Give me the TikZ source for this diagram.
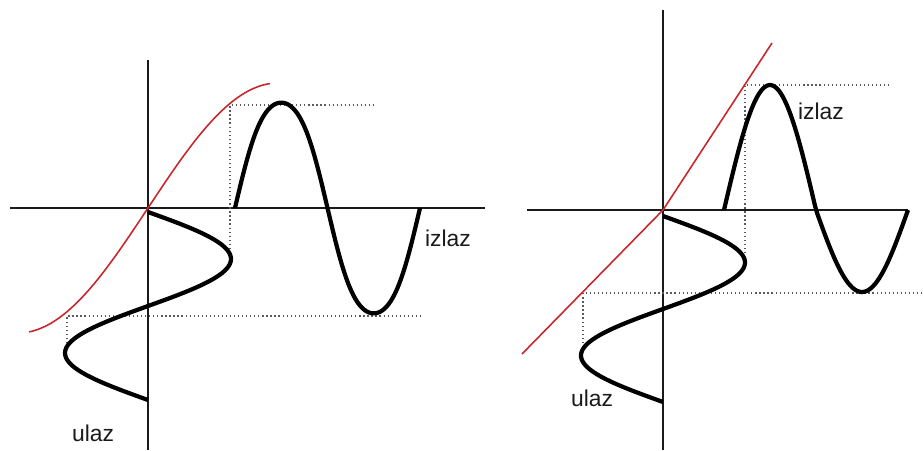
\documentclass[tikz,border=0pt]{standalone}
\usepackage{fontspec}
\setmainfont{Liberation Sans}
\usepackage{xcolor}
\definecolor{txt}{HTML}{1A1A1A}
\definecolor{redline}{HTML}{C8262B}
\definecolor{dotgray}{HTML}{5A5A5A}

\begin{document}
\begin{tikzpicture}[
  x=0.02cm, y=-0.02cm,
  axis/.style={draw=txt, line width=0.9pt},
  wave/.style={draw=black, line width=2.4pt, line join=round},
  transfer/.style={draw=redline, line width=0.9pt},
  guide/.style={draw=dotgray, line width=0.6pt, dash pattern=on 0.7pt off 1.6pt},
  lbl/.style={font=\fontsize{13}{15}\selectfont, text=txt, inner sep=0pt},
]
\useasboundingbox (0,0) rectangle (923,450);

% left panel: saturating characteristic
\draw[axis] (148,60) -- (148,450);
\draw[axis] (10,208) -- (485,208);

\draw[guide] (230,253) -- (230,105) -- (376,105);
\draw[guide] (67,347) -- (67,316) -- (423,316);

\draw[transfer] plot[domain=-119:122, samples=80, smooth, variable=\u]
  ({148+\u}, {208-125*sin(0.6923*\u)});

\draw[wave] plot[domain=0:188, samples=90, smooth, variable=\t]
  ({148+83*sin(\t/188*360)}, {212+\t});
\draw[wave] plot[domain=0:185, samples=90, smooth, variable=\t]
  ({235+\t}, {208-125*sin(0.6923*83*sin(\t/185*360))});

\node[lbl] (ulazL) at (93,433) {ulaz};
\node[lbl] (izlazL) at (448,238) {izlaz};

% right panel: linear characteristic, different slopes
\draw[axis] (663,10) -- (663,450);
\draw[axis] (527,210) -- (908,210);

\draw[guide] (745,253) -- (745,85) -- (892,85);
\draw[guide] (583,347) -- (583,293) -- (922,293);

\draw[transfer] (522,354) -- (663,210) -- (772,43);

\draw[wave] plot[domain=0:186, samples=90, smooth, variable=\t]
  ({663+82*sin(\t/186*360)}, {216+\t});
\draw[wave] plot[domain=0:184, samples=90, smooth, variable=\t]
  ({724+\t}, {210-(sin(\t/184*360)>0 ? 125 : 82)*sin(\t/184*360)});

\node[lbl] (ulazR) at (592,398) {ulaz};
\node[lbl] (izlazR) at (821,111) {izlaz};

\end{tikzpicture}
\end{document}
